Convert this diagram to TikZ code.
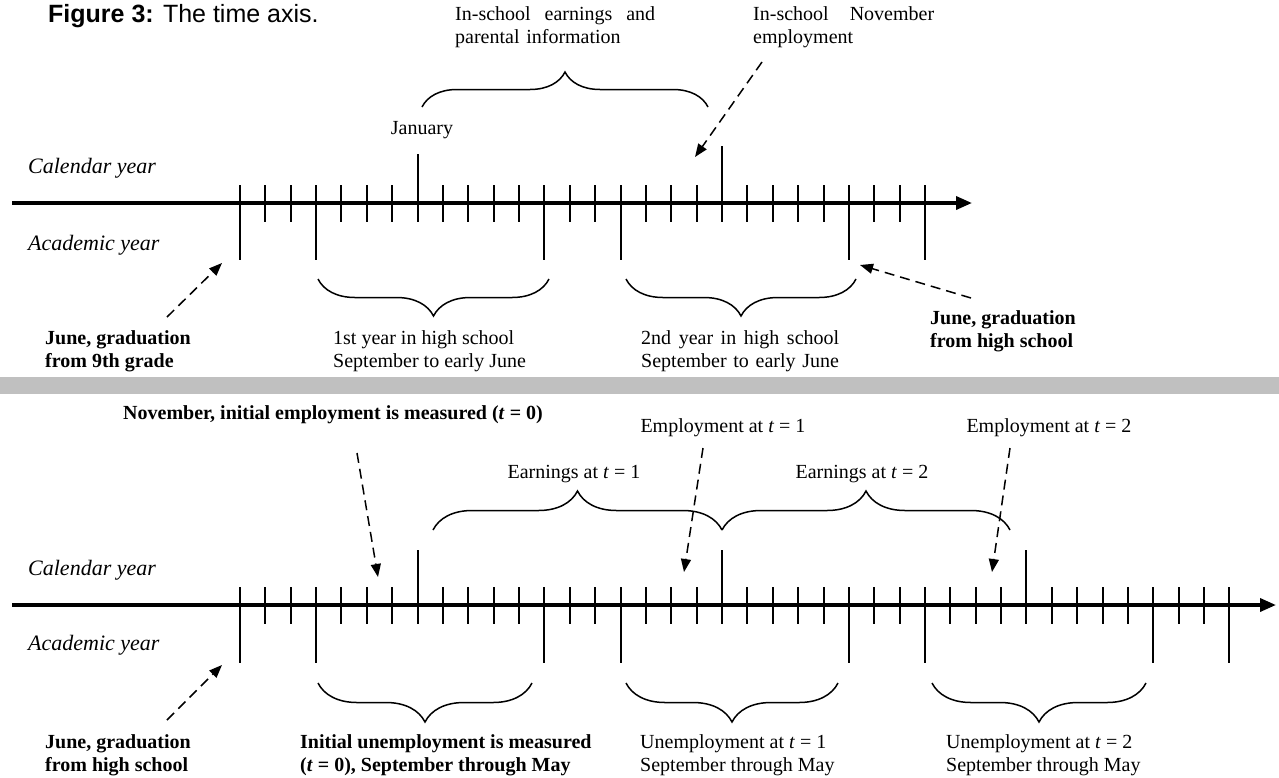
\documentclass[tikz,border=0pt]{standalone}
\usepackage{fontspec}
\setmainfont{Liberation Serif}
\newfontfamily\arialfont{Liberation Sans}
\usetikzlibrary{arrows.meta,decorations.pathreplacing}
\definecolor{bandgray}{RGB}{192,192,192}
\newcommand{\txtsize}{\fontsize{20}{23}\selectfont}

\begin{document}
\begin{tikzpicture}[x=1pt,y=-1pt,>={Triangle[length=13pt,width=10pt]}]
\tikzstyle{lbl}=[font=\txtsize, inner sep=0pt, anchor=west, align=left]
\tikzstyle{bold lbl}=[lbl, font=\txtsize\bfseries]
\tikzstyle{rowlbl}=[lbl, font=\fontsize{22}{25}\selectfont\itshape]
\tikzstyle{timeline}=[line width=3.5pt, -{Triangle[length=16pt,width=13pt]}]
\tikzstyle{monthline}=[line width=2pt]
\tikzstyle{pointer}=[->, line width=1.5pt, dash pattern=on 10pt off 6pt]
\tikzstyle{curly}=[line width=1.5pt, decorate, decoration={brace, amplitude=37pt}]
\tikzstyle{curly down}=[curly, decoration={mirror}]
\useasboundingbox (0,0) rectangle (1279,777);

% title
\node[lbl, font=\arialfont\fontsize{25}{29}\selectfont] (TITLE) at (48,16) {\textbf{Figure 3:} The time axis.};

% ---- upper panel: high school years ----
\node[lbl, text width=200pt] (INSCH) at (455,27) {In-school\hfill earnings\hfill and\\parental information};
\node[lbl, text width=181pt] (NOVEMP) at (753,27) {In-school\hfill November\\employment};
\node[lbl, anchor=center] (JAN) at (422,130) {January};
\node[rowlbl] (CAL1) at (28,168) {Calendar year};
\node[rowlbl] (ACAD1) at (28,245) {Academic year};

\coordinate (AX1S) at (12,203);
\coordinate (AX1E) at (972,203);
\draw[timeline] (AX1S) -- (AX1E);
\foreach \i in {0,...,27}
  \draw[monthline] ({240+25.37*\i},185) -- ({240+25.37*\i},222);
\draw[monthline] ({240+25.37*7},154) -- ({240+25.37*7},222);
\draw[monthline] ({240+25.37*19},146) -- ({240+25.37*19},222);
\foreach \i in {0,3,12,15,24,27}
  \draw[monthline] ({240+25.37*\i},185) -- ({240+25.37*\i},260);

\coordinate (B0L) at (422,107);
\coordinate (B0R) at (708,107);
\draw[curly, decoration={amplitude=35pt}] (B0L) -- (B0R);
\coordinate (NOVa) at (762,62);
\coordinate (NOVb) at (695,157);
\draw[pointer] (NOVa) -- (NOVb);

\coordinate (B1L) at (318,279);
\coordinate (B1R) at (549,279);
\draw[curly down] (B1L) -- (B1R);
\coordinate (B2L) at (626,279);
\coordinate (B2R) at (856,279);
\draw[curly down] (B2L) -- (B2R);

\node[bold lbl] (GRAD9) at (45,351) {June, graduation\\from 9th grade};
\node[lbl] (YEAR1) at (333,351) {1st year in high school\\September to early June};
\node[lbl, text width=198pt] (YEAR2) at (641,351) {2nd\hfill year\hfill in\hfill high\hfill school\\September to early June};
\node[bold lbl] (GRADHS) at (930,331) {June, graduation\\from high school};
\coordinate (G9a) at (167,317);
\coordinate (G9b) at (222,263);
\draw[pointer] (G9a) -- (G9b);
\coordinate (GHa) at (971,298);
\coordinate (GHb) at (860,265);
\draw[pointer] (GHa) -- (GHb);

% separator
\fill[bandgray] (0,377) rectangle (1279,394);

% ---- lower panel: after graduation ----
\node[bold lbl, anchor=center] (NOVT0) at (333,415) {November, initial employment is measured (\textit{t} = 0)};
\node[lbl, anchor=center] (EMP1) at (723,428) {Employment at \textit{t} = 1};
\node[lbl, anchor=center] (EMP2) at (1049,428) {Employment at \textit{t} = 2};
\node[lbl, anchor=center] (EARN1) at (574,474) {Earnings at \textit{t} = 1};
\node[lbl, anchor=center] (EARN2) at (862,474) {Earnings at \textit{t} = 2};
\node[rowlbl] (CAL2) at (28,570) {Calendar year};
\node[rowlbl] (ACAD2) at (28,645) {Academic year};

\coordinate (E1L) at (433,530);
\coordinate (E1R) at (722,530);
\coordinate (E2R) at (1010,530);
\draw[curly, decoration={amplitude=39pt}] (E1L) -- (E1R);
\draw[curly, decoration={amplitude=39pt}] (E1R) -- (E2R);

\coordinate (N0a) at (357,453);
\coordinate (N0b) at (378,577);
\draw[pointer] (N0a) -- (N0b);
\coordinate (M1a) at (703,448);
\coordinate (M1b) at (684,572);
\draw[pointer] (M1a) -- (M1b);
\coordinate (M2a) at (1010,448);
\coordinate (M2b) at (992,572);
\draw[pointer] (M2a) -- (M2b);

\coordinate (AX2S) at (12,605);
\coordinate (AX2E) at (1276,605);
\draw[timeline] (AX2S) -- (AX2E);
\foreach \i in {0,...,39}
  \draw[monthline] ({240+25.37*\i},587) -- ({240+25.37*\i},624);
\foreach \i in {7,19,31}
  \draw[monthline] ({240+25.37*\i},550) -- ({240+25.37*\i},624);
\foreach \i in {0,3,12,15,24,27,36,39}
  \draw[monthline] ({240+25.37*\i},587) -- ({240+25.37*\i},663);

\coordinate (U0L) at (318,683);
\coordinate (U0R) at (532,683);
\draw[curly down, decoration={amplitude=39pt}] (U0L) -- (U0R);
\coordinate (U1L) at (626,683);
\coordinate (U1R) at (838,683);
\draw[curly down, decoration={amplitude=39pt}] (U1L) -- (U1R);
\coordinate (U2L) at (932,683);
\coordinate (U2R) at (1146,683);
\draw[curly down, decoration={amplitude=39pt}] (U2L) -- (U2R);

\node[bold lbl] (GRADHS2) at (45,755) {June, graduation\\from high school};
\coordinate (GSa) at (167,720);
\coordinate (GSb) at (222,665);
\draw[pointer] (GSa) -- (GSb);
\node[bold lbl] (UNEMP0) at (300,755) {Initial unemployment is measured\\(\textit{t} = 0), September through May};
\node[lbl] (UNEMP1) at (640,755) {Unemployment at \textit{t} = 1\\September through May};
\node[lbl] (UNEMP2) at (946,755) {Unemployment at \textit{t} = 2\\September through May};
\end{tikzpicture}
\end{document}
